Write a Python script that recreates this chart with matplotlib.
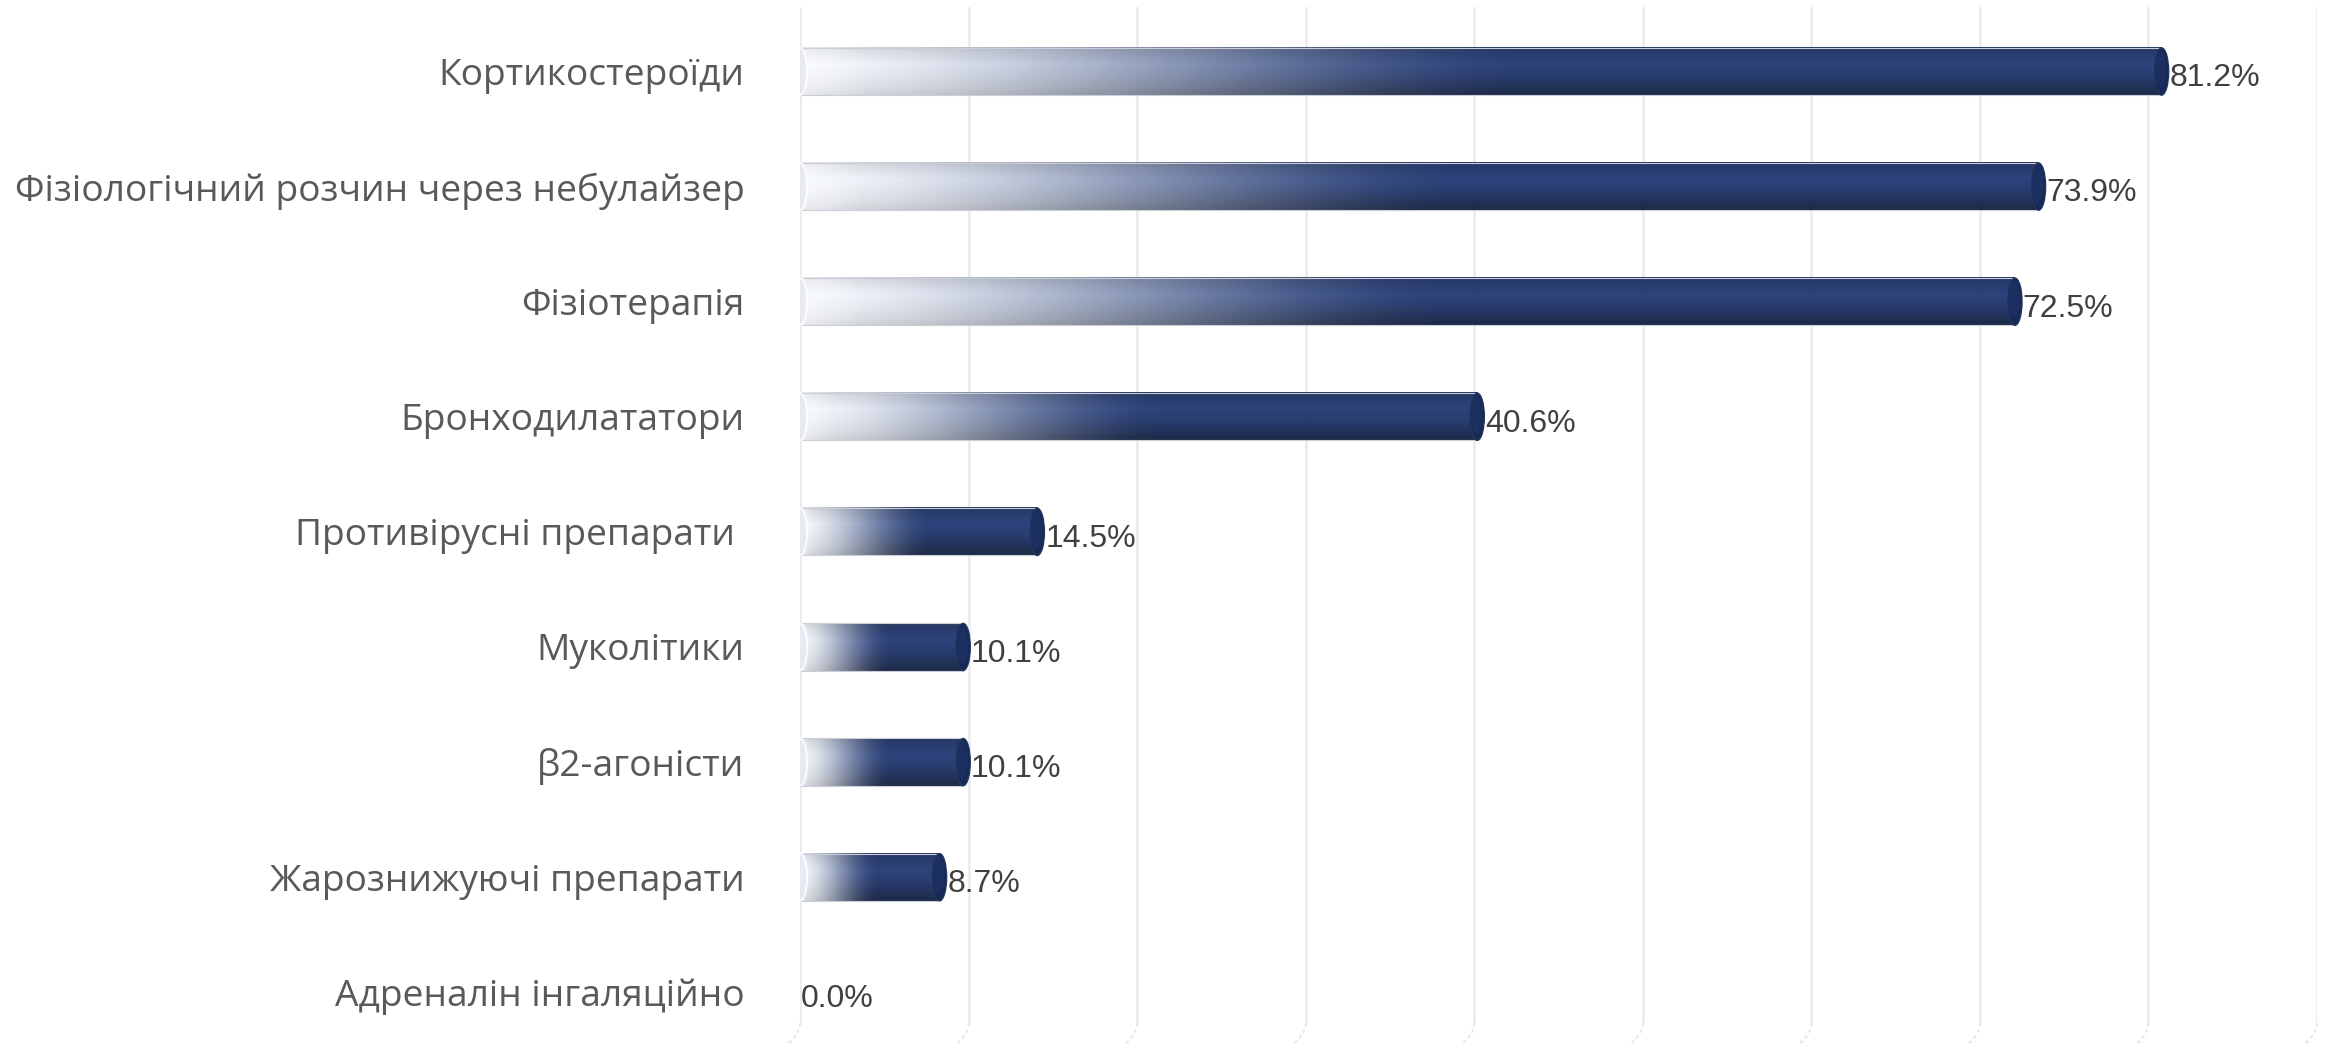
import numpy as np
import matplotlib
matplotlib.use("Agg")
import matplotlib.pyplot as plt
from matplotlib import font_manager
from matplotlib.patches import Ellipse
import matplotlib.transforms as mtransforms

categories = [
    "Кортикостероїди",
    "Фізіологічний розчин через небулайзер",
    "Фізіотерапія",
    "Бронходилататори",
    "Противірусні препарати ",
    "Муколітики",
    "β2-агоністи",
    "Жарознижуючі препарати",
    "Адреналін інгаляційно",
]
values = [81.2, 73.9, 72.5, 40.6, 14.5, 10.1, 10.1, 8.7, 0.0]
value_labels = ["81.2%", "73.9%", "72.5%", "40.6%", "14.5%", "10.1%", "10.1%", "8.7%", "0.0%"]
grid_ticks = [0, 10, 20, 30, 40, 50, 60, 70, 80, 90]

avail = {f.name for f in font_manager.fontManager.ttflist}
label_font = "Open Sans" if "Open Sans" in avail else "DejaVu Sans"
value_font = "Liberation Sans Narrow" if "Liberation Sans Narrow" in avail else "Liberation Sans"

W, H, DPI = 2328, 1045, 100
fig = plt.figure(figsize=(W / DPI, H / DPI), dpi=DPI)
fig.patch.set_facecolor("white")
ax = fig.add_axes([800 / W, 0, 1517 / W, 1])
ax.set_facecolor("white")

# gridlines
gtrans = mtransforms.blended_transform_factory(ax.transData, ax.transAxes)
for g in grid_ticks:
    ax.axvline(g, ymin=0.021, ymax=0.992, color="#ebebeb", lw=1.9, zorder=0)
    tt = np.linspace(0, 1, 20)
    ax.plot(g - 0.8 * tt ** 2, 0.021 * (1 - tt), transform=gtrans, color="#e2e2e2",
            lw=1.2, ls=(0, (2, 2)), zorder=0, clip_on=False)

bar_h = 0.41
r = 0.42  # end-cap half-width in data units

navy = np.array([29, 50, 102]) / 255.0
light = np.array([238, 241, 246]) / 255.0
vp = np.linspace(0, 1, 60)
shade = np.interp(vp, [0, 0.08, 0.35, 0.6, 0.85, 1.0], [0.85, 0.95, 1.15, 1.0, 0.75, 0.6])
lshade = np.interp(vp, [0, 0.08, 0.35, 0.6, 0.85, 1.0], [0.90, 0.95, 1.03, 1.0, 0.95, 0.90])

for i, v in enumerate(values):
    if v <= 0:
        continue
    x1 = v - r
    nx = 500
    t = np.linspace(0, 1, nx) * x1 / v
    u = np.clip(1 - t / 0.52, 0, 1)
    w = 0.25 * u + 0.75 * (u * u * (3 - 2 * u))
    dark = np.clip(navy[None, :] * shade[:, None], 0, 1)
    lt = np.clip(light[None, :] * lshade[:, None], 0, 1)
    img = dark[:, None, :] * (1 - w[None, :, None]) + lt[:, None, :] * w[None, :, None]
    alpha = np.clip(0.55 + t / 0.05 * 0.4, 0, 0.95)
    rgba = np.concatenate([img, np.broadcast_to(alpha[None, :, None], img.shape[:2] + (1,))], axis=2)
    ax.imshow(rgba, extent=(0, x1, i + bar_h / 2, i - bar_h / 2), origin="upper",
              aspect="auto", interpolation="bilinear", zorder=2)
    ax.plot([0, x1], [i - bar_h / 2, i - bar_h / 2], color="#c9ced8", lw=0.8, zorder=3)
    ax.plot([0, x1], [i + bar_h / 2, i + bar_h / 2], color="#c9ced8", lw=0.8, zorder=3)
    ax.add_patch(Ellipse((0, i), 2 * r, bar_h, facecolor="#e6e9ef", edgecolor="white",
                         lw=1.5, alpha=0.85, zorder=3))
    ax.add_patch(Ellipse((x1, i), 2 * r, bar_h, facecolor="#172955", edgecolor="#22355f",
                         lw=1.0, zorder=4))
    ax.add_patch(Ellipse((x1 - 0.05, i - 0.02), 2 * r * 0.8, bar_h * 0.8, facecolor="#1b2f60",
                         edgecolor="none", zorder=4))

for i, (v, lab) in enumerate(zip(values, value_labels)):
    ax.text(v + 0.05, i + 0.06, lab, ha="left", va="center", fontsize=23,
            family=value_font, color="#404040", zorder=5)

ax.set_xlim(0, 90)
ax.set_ylim(8.458, -0.621)
ax.set_yticks(range(len(categories)))
ax.set_yticklabels(categories, fontsize=26.7, family=label_font, color="#595959")
ax.tick_params(axis="y", length=0, pad=40)
ax.set_xticks([])
for s in ax.spines.values():
    s.set_visible(False)

fig.savefig("out.png", dpi=DPI, facecolor="white")
